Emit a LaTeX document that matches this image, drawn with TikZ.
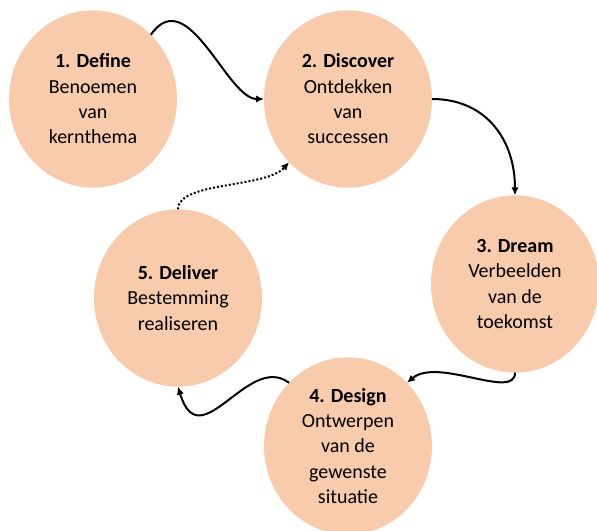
\documentclass[tikz,border=0pt]{standalone}
\usepackage{fontspec}
\setmainfont{Carlito}
\usepackage{tikz}
\usetikzlibrary{positioning,shapes,arrows,arrows.meta}
\definecolor{peach}{HTML}{F8CBAD}
\tikzset{every picture/.style={line width=1.5pt}}

\begin{document}
\begin{tikzpicture}[on grid, >={Latex[length=6pt,width=5.5pt]},
    phase/.style={ellipse, fill=peach, draw=none, minimum width=126pt, minimum height=133pt, inner sep=0pt, outer sep=0pt, align=center, font=\fontsize{15}{19}\selectfont},
    flow/.style={->, line width=1.5pt}]
\useasboundingbox (0,0) rectangle (447.75pt,-398.25pt);
    % The five phases
\node[phase] (define) at (69.75pt,-74.25pt) {\textbf{1. Define}\\Benoemen\\van\\kernthema};
\node[phase, right=191.25pt of define] (discover) {\textbf{2. Discover}\\Ontdekken\\van\\successen};
\node[phase, below right=138.75pt and 125.25pt of discover] (dream) {\textbf{3. Dream}\\Verbeelden\\van de\\toekomst};
\node[phase, below=260.25pt of discover] (design) {\textbf{4. Design}\\Ontwerpen\\van de\\gewenste\\situatie};
\node[phase, below right=149.25pt and 63.75pt of define] (deliver) {\textbf{5. Deliver}\\Bestemming\\realiseren};

    % Cycle
    \draw[flow] (define.48) .. controls +(27.75pt,39.75pt) and +(-27.75pt,0pt) .. (discover.west);
    \draw[flow] (discover.east) to[out=0, in=90, looseness=1.1] (dream.north);
    \draw[flow] (dream.south) .. controls +(0pt,-21pt) and +(23.25pt,19.5pt) .. (design.47);
    \draw[flow] (design.133) .. controls +(-30.75pt,23.25pt) and +(16.5pt,-54.75pt) .. (deliver.south);
    \draw[flow, dash pattern=on 1.5pt off 1.5pt] (deliver.north) .. controls +(0pt,21pt) and +(-17.25pt,-19.5pt) .. (discover.227);
\end{tikzpicture}
\end{document}
